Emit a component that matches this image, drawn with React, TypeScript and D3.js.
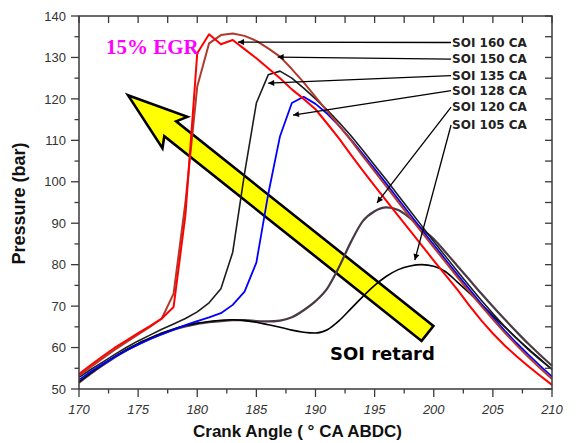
import React from 'react';
import * as d3 from 'd3';

// crank angle (deg CA ABDC)
const angles = [170, 171, 172, 173, 174, 175, 176, 177, 178, 179, 180, 181, 182, 183, 184, 185, 186, 187, 188, 189, 190,
  191, 192, 193, 194, 195, 196, 197, 198, 199, 200, 201, 202, 203, 204, 205, 206, 207, 208, 209, 210];

// pressure (bar) for each SOI
const soi160 = [53.6, 55.8, 57.9, 59.9, 61.7, 63.5, 65.2, 67.0, 69.8, 92, 131, 135.6, 133.2, 134.2, 132, 129.8, 127.4, 125, 122.3, 120, 117.5,
  114, 110.4, 106.5, 102.7, 99, 95.4, 91.8, 88.2, 84.6, 81, 77.5, 74, 70.2, 66.6, 63.4, 60.5, 57.9, 55.5, 53.2, 51];
const soi150 = [53.2, 55.3, 57.4, 59.4, 61.3, 63.2, 65.0, 67.0, 73, 95, 123, 133.4, 135.4, 135.8, 135.2, 134, 132.2, 130.2, 127.2, 124, 120.5,
  117, 113.5, 110, 106.2, 102.5, 98.8, 95.1, 91.4, 87.8, 84.2, 80.6, 77, 73.5, 70.1, 66.8, 63.6, 60.6, 57.7, 55, 52.4];
const soi135 = [52.8, 54.7, 56.5, 58.3, 60, 61.6, 63, 64.4, 65.7, 67, 68.6, 70.8, 74.2, 83, 102, 119, 125.8, 126.7, 125, 122.6, 120,
  117.3, 114.3, 111.1, 107.6, 104, 100.4, 96.7, 93, 89.3, 85.6, 82, 78.4, 74.9, 71.5, 68.2, 65.1, 62.2, 59.5, 57, 54.8];
const soi128 = [52.2, 54.2, 56, 57.7, 59.3, 60.7, 62, 63.2, 64.3, 65.4, 66.4, 67.3, 68.3, 70.3, 73.5, 80.5, 97, 111, 119, 120.5, 118.8,
  116.4, 113.5, 110.2, 106.7, 103.1, 99.5, 95.8, 92.1, 88.4, 84.8, 81.2, 77.6, 74.1, 70.6, 67.3, 64.1, 61.1, 58.3, 55.6, 53];
const soi120 = [51.5, 53.7, 55.7, 57.6, 59.3, 60.8, 62.1, 63.3, 64.3, 65.1, 65.7, 66.1, 66.4, 66.6, 66.6, 66.4, 66.3, 66.5, 67.3, 69, 71.2,
  74.3, 79.5, 85.5, 90.5, 92.9, 93.8, 93.2, 91.2, 88.6, 86.2, 83, 79.7, 76.4, 73.1, 69.9, 66.8, 63.8, 60.9, 58.2, 55.6];
const soi105 = [51.7, 53.9, 55.9, 57.8, 59.5, 61, 62.3, 63.5, 64.5, 65.3, 65.9, 66.3, 66.6, 66.7, 66.5, 66.1, 65.5, 64.9, 64.2, 63.7, 63.5,
  64.3, 66.5, 69.4, 72.3, 75, 77.2, 78.8, 79.7, 80, 79.6, 78.3, 75.8, 73.2, 70.5, 67.7, 65, 62.3, 59.7, 57.2, 54.7];

const xTicks = [170, 175, 180, 185, 190, 195, 200, 205, 210];
const yTicks = [50, 60, 70, 80, 90, 100, 110, 120, 130, 140];

// labels on the right and where their arrows point (data units)
const soiLabels = ['SOI 160 CA', 'SOI 150 CA', 'SOI 135 CA', 'SOI 128 CA', 'SOI 120 CA', 'SOI 105 CA'];
const labelAngle = 201.55;
const labelPressure = [133.6, 129.6, 125.6, 122.0, 118.0, 113.7];
const tipAngle = [183.45, 186.8, 186.0, 188.1, 195.2, 198.4];
const tipPressure = [133.7, 130.1, 123.8, 116.1, 94.9, 81.1];

// big yellow arrow: tail -> tip (data units)
const bigArrowTail = [199.47, 63.4];
const bigArrowTip = [174.14, 120.9];

const W = 577;
const H = 443;

export default function App() {
  const x = d3.scaleLinear().domain([170, 210]).range([79, 552]);
  const y = d3.scaleLinear().domain([50, 140]).range([389, 16]);

  const series = [
    { values: soi120, color: '#4a3a46', width: 2.2, curve: d3.curveMonotoneX },
    { values: soi105, color: '#000000', width: 1.6, curve: d3.curveMonotoneX },
    { values: soi135, color: '#1c1c1c', width: 1.6, curve: d3.curveLinear },
    { values: soi128, color: '#0000ff', width: 1.8, curve: d3.curveLinear },
    { values: soi150, color: '#b23a2c', width: 2, curve: d3.curveLinear },
    { values: soi160, color: '#ff0000', width: 2, curve: d3.curveLinear },
  ];

  const lineFor = (vals: number[], curve: any) =>
    d3.line<number>()
      .x((_, i) => x(angles[i]))
      .y(d => y(d))
      .curve(curve)(vals) || '';

  // yellow arrow polygon
  const tx = x(bigArrowTip[0]), ty = y(bigArrowTip[1]);
  const sx = x(bigArrowTail[0]), sy = y(bigArrowTail[1]);
  const len = Math.hypot(sx - tx, sy - ty);
  const ux = (sx - tx) / len, uy = (sy - ty) / len;
  const nx = -uy, ny = ux;
  const P = (a: number, b: number) => [tx + ux * a + nx * b, ty + uy * a + ny * b];
  const headLen = 60, notch = 54, headHalf = 20, shaftHalf = 9.5;
  const arrowPts = [
    P(0, 0), P(headLen, -headHalf), P(notch, -shaftHalf), P(len, -shaftHalf),
    P(len, shaftHalf), P(notch, shaftHalf), P(headLen, headHalf),
  ];

  const minorX = d3.range(170, 210.01, 2.5);
  const minorY = d3.range(50, 140.01, 5);

  const axisColor = '#3a3a3a';
  const sans = '"Liberation Sans", Arial, sans-serif';

  return (
    <svg width={W} height={H} style={{ position: 'absolute', left: 0, top: 0, background: '#fff' }}>
      <defs>
        <marker id="ah" viewBox="0 0 10 10" refX="10" refY="5" markerWidth="9" markerHeight="6"
          markerUnits="userSpaceOnUse" orient="auto">
          <path d="M0,0 L10,5 L0,10 z" fill="#000" />
        </marker>
      </defs>
      <rect width={W} height={H} fill="#fff" />

      {/* yellow arrow under the curves */}
      <polygon points={arrowPts.map(p => p.join(',')).join(' ')} fill="#ffff00" stroke="#000"
        strokeWidth={2.6} strokeLinejoin="miter" />

      {/* curves */}
      {series.map((s, i) => (
        <path key={i} d={lineFor(s.values, s.curve)} fill="none" stroke={s.color}
          strokeWidth={s.width} strokeLinejoin="round" />
      ))}

      {/* frame */}
      <rect x={x(170)} y={y(140)} width={x(210) - x(170)} height={y(50) - y(140)}
        fill="none" stroke={axisColor} strokeWidth={1.5} />

      {/* bottom + top ticks */}
      {minorX.map((v, i) => {
        const major = i % 2 === 0;
        return (
          <g key={'xt' + i}>
            <line x1={x(v)} x2={x(v)} y1={y(50)} y2={y(50) + (major ? 8 : 4.5)} stroke={axisColor} strokeWidth={1.3} />
            <line x1={x(v)} x2={x(v)} y1={y(140)} y2={y(140) + 7} stroke={axisColor} strokeWidth={1.3} />
          </g>
        );
      })}
      {/* left + right ticks */}
      {minorY.map((v, i) => {
        const major = i % 2 === 0;
        return (
          <g key={'yt' + i}>
            <line x1={x(170) - (major ? 8 : 4.5)} x2={x(170)} y1={y(v)} y2={y(v)} stroke={axisColor} strokeWidth={1.3} />
            <line x1={x(210) - 7} x2={x(210)} y1={y(v)} y2={y(v)} stroke={axisColor} strokeWidth={1.3} />
          </g>
        );
      })}

      {xTicks.map(v => (
        <text key={'xl' + v} x={x(v)} y={414} textAnchor="middle" fontFamily={sans} fontSize={13}
          fontStyle="italic" fill="#333">{v}</text>
      ))}
      {yTicks.map(v => (
        <text key={'yl' + v} x={66} y={y(v)} dy="0.36em" textAnchor="end" fontFamily={sans} fontSize={13}
          fill="#333">{v}</text>
      ))}

      <text x={193} y={437} fontFamily={sans} fontSize={17} fontWeight="bold" fill="#111">
        Crank Angle ( ° CA ABDC)
      </text>
      <text transform="translate(25,203.5) rotate(-90)" textAnchor="middle" fontFamily={sans} fontSize={18}
        fontWeight="bold" fill="#111">Pressure (bar)</text>

      {/* SOI labels with arrows */}
      {soiLabels.map((lab, i) => (
        <g key={lab}>
          <line x1={x(labelAngle) - 1} y1={y(labelPressure[i])} x2={x(tipAngle[i])} y2={y(tipPressure[i])}
            stroke="#000" strokeWidth={1.3} markerEnd="url(#ah)" />
          <text x={x(labelAngle)} y={y(labelPressure[i])} dy="0.36em" fontFamily='"DejaVu Sans", sans-serif'
            fontSize={12} fontWeight="bold" fill="#222">{lab}</text>
        </g>
      ))}

      <text x={106} y={54} fontFamily='"Liberation Serif", "Times New Roman", serif' fontSize={21}
        fontWeight="bold" fill="#ff00ff">15% EGR</text>
      <text x={330} y={360} fontFamily='"DejaVu Sans", sans-serif' fontSize={18} fontWeight="bold"
        fill="#000">SOI retard</text>
    </svg>
  );
}
